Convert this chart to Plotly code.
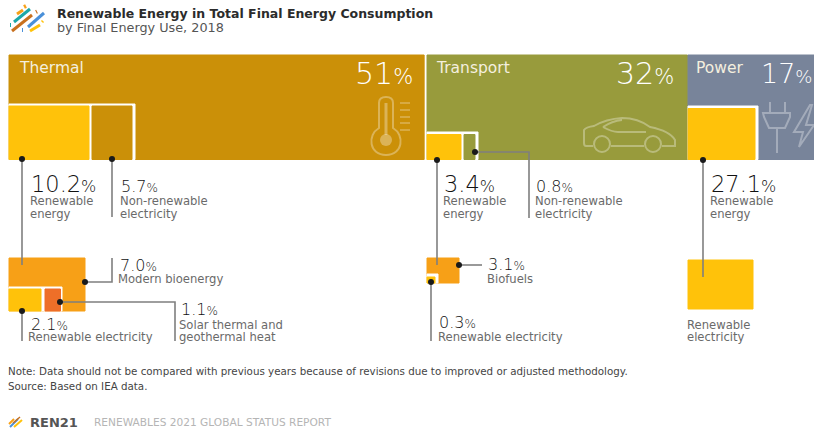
import plotly.graph_objects as go

# ---------- chart values ----------
uses = ["Thermal", "Transport", "Power"]
use_shares = [51, 32, 17]
thermal_parts = [10.2, 5.7]
thermal_renewable_parts = [7.0, 2.1, 1.1]
transport_parts = [3.4, 0.8]
transport_renewable_parts = [3.1, 0.3]
power_parts = [27.1]

# ---------- styles ----------
GOLD, OLIVE, SLATE = "#CB9008", "#989B3C", "#78849A"
YELLOW, ORANGE, RED = "#FFC20A", "#F7A017", "#EE6F28"
LINE, DOT = "#7f7f7f", "#1a1a1a"
DARK, MID = "#111111", "#6a6a6a"
FONT = "DejaVu Sans, sans-serif"
ICON = "rgba(255,255,255,0.32)"
NOFILL = "rgba(0,0,0,0)"
PX_PER_PCT = 8.14
TOP, BOTTOM = 55, 159.5
LABEL, VALUE, VALUE_BIG = 11.6, 16, 22.5

fig = go.Figure()


def rect(x0, y0, x1, y1, color, line=None):
    fig.add_trace(go.Scatter(
        x=[x0, x1, x1, x0, x0], y=[y0, y0, y1, y1, y0], mode="lines", fill="toself",
        fillcolor=color, line=dict(color=line or color, width=1 if line is None else 2),
        hoverinfo="skip", showlegend=False))


def leader(xs, ys, dot=True):
    fig.add_trace(go.Scatter(x=xs, y=ys, mode="lines", line=dict(color=LINE, width=1.6),
                             hoverinfo="skip", showlegend=False))
    if dot:
        fig.add_trace(go.Scatter(x=[xs[0]], y=[ys[0]], mode="markers",
                                 marker=dict(color=DOT, size=6), hoverinfo="skip", showlegend=False))


def text(x, y, s, size, color=MID, anchor="left", weight=400):
    fig.add_annotation(x=x, y=y, text=s, showarrow=False, xanchor=anchor, yanchor="middle",
                       xref="x", yref="y",
                       font=dict(family=FONT, size=size, color=color, weight=weight),
                       borderpad=0, borderwidth=0)


def pct(x, y, v, size, color=DARK, small=None, dec=True):
    label = f"{v:.1f}" if dec else f"{v}"
    small = small or size * 0.72
    fig.add_annotation(x=x, y=y, showarrow=False, xanchor="left", yanchor="middle",
                       text=f"{label}<span style='font-size:{small:.0f}px'>%</span>",
                       font=dict(family=FONT, size=size, color=color, weight=200))


# ---------- top panels ----------
x_left = [9, 427, 688]
colors = [GOLD, OLIVE, SLATE]
for xl, share, c in zip(x_left, use_shares, colors):
    rect(xl, TOP, min(xl + share * PX_PER_PCT, 814), BOTTOM, c)

# thermal parts
rect(9, 104, 135, BOTTOM, "#FFFFFF")
rect(9, 106, 89, BOTTOM, YELLOW)
rect(92, 106, 132, BOTTOM, GOLD)
# transport parts
rect(427, 132, 478, BOTTOM, "#FFFFFF")
rect(427, 134.5, 461, BOTTOM, YELLOW)
rect(464, 134.5, 475, BOTTOM, OLIVE)
# power part
rect(688, 106, 758, BOTTOM, "#FFFFFF")
rect(688, 108.5, 755, BOTTOM, YELLOW)

# ---------- lower squares ----------
rect(9, 258, 85, 311, ORANGE)
rect(9, 287, 62, 311, "#FFFFFF")
rect(9, 289, 41, 311, YELLOW)
rect(45, 289, 60.5, 311, RED)
rect(427, 258, 459, 283, ORANGE)
rect(427, 274, 438, 283, "#FFFFFF")
rect(427, 277, 435, 283, YELLOW)
rect(688, 260, 753, 309, YELLOW)

# ---------- leaders ----------
leader([22, 22], [159, 265])
leader([112, 112], [159, 217])
leader([85, 112, 112], [282, 282, 258])
leader([60, 175, 175], [302, 302, 341])
leader([22, 22], [311, 341])
leader([437, 437], [160, 265])
leader([475, 529, 529], [152, 152, 218])
leader([459, 482], [265, 265])
leader([431, 431], [282, 341])
leader([703, 703], [160, 277])

# ---------- panel text ----------
for x, s in zip([19, 436, 696], uses):
    text(x, 68, s, 15.5, "#F4EFDF")
pct(353, 73, use_shares[0], 30, "#FFFFFF", small=21, dec=False)
pct(614, 73, use_shares[1], 30, "#FFFFFF", small=21, dec=False)
pct(759, 73, use_shares[2], 27, "#FFFFFF", small=18, dec=False)

# ---------- value labels ----------
pct(29, 184, thermal_parts[0], VALUE_BIG)
text(30, 201, "Renewable", LABEL)
text(30, 214, "energy", LABEL)
pct(119, 186, thermal_parts[1], VALUE)
text(120, 201, "Non-renewable", LABEL)
text(120, 214, "electricity", LABEL)
pct(118, 265, thermal_renewable_parts[0], VALUE)
text(118, 279, "Modern bioenergy", LABEL)
pct(29, 324, thermal_renewable_parts[1], VALUE)
text(28, 337, "Renewable electricity", LABEL)
pct(179, 309, thermal_renewable_parts[2], VALUE)
text(179, 325, "Solar thermal and", LABEL)
text(179, 337, "geothermal heat", LABEL)

pct(442, 184, transport_parts[0], VALUE_BIG)
text(443, 201, "Renewable", LABEL)
text(443, 214, "energy", LABEL)
pct(534, 186, transport_parts[1], VALUE)
text(535, 201, "Non-renewable", LABEL)
text(535, 214, "electricity", LABEL)
pct(486, 264, transport_renewable_parts[0], VALUE)
text(487, 279, "Biofuels", LABEL)
pct(437, 322, transport_renewable_parts[1], VALUE)
text(438, 337, "Renewable electricity", LABEL)

pct(709, 184, power_parts[0], VALUE_BIG)
text(710, 201, "Renewable", LABEL)
text(710, 214, "energy", LABEL)
text(687, 325, "Renewable", LABEL)
text(687, 337, "electricity", LABEL)

# ---------- header / footer ----------
text(57, 13, "Renewable Energy in Total Final Energy Consumption", 12.5, "#2b2b2b", weight=700)
text(57, 27, "by Final Energy Use, 2018", 12.8, "#555555")
text(8, 371, "Note: Data should not be compared with previous years because of revisions due to improved or adjusted methodology.", 10.3, "#444444")
text(8, 386, "Source: Based on IEA data.", 10.3, "#444444")
text(30, 422, "REN21", 13, "#555555", weight=700)
text(94, 422, "RENEWABLES 2021 GLOBAL STATUS REPORT", 10.6, "#b5b5b5")

# ---------- logos (decorative) ----------
for (a, b, c_, w) in [
    ((14, 22), (30, 9), "#1BA8A8", 3), ((12, 31), (32, 15), "#C8701E", 3),
    ((28, 27), (44, 13), "#4A90D9", 3), ((30, 31), (40, 25), "#FFC20A", 3),
    ((17, 14), (23, 10), "#F7A017", 3), ((24, 7), (26, 6), "#F7A017", 4),
    ((36, 12), (37, 11.5), "#C8701E", 4), ((42, 22), (43, 21), "#FFC20A", 3),
    ((10, 25), (11, 25), "#1BA8A8", 4), ((22, 30), (23, 30), "#4A90D9", 4),
    ((10, 427), (18, 419), "#4A90D9", 2), ((9, 424), (14, 419), "#F7A017", 2),
    ((14, 427), (22, 420), "#FFC20A", 2), ((13, 423), (20, 417), "#C8701E", 1.5),
]:
    fig.add_trace(go.Scatter(x=[a[0], b[0]], y=[a[1], b[1]], mode="lines",
                             line=dict(color=c_, width=w), hoverinfo="skip", showlegend=False))

# ---------- icons (decorative) ----------
icon_line = dict(color=ICON, width=2)
shapes = [
    # thermometer
    dict(type="path", fillcolor=NOFILL,
         path="M379,128 L379,103 Q379,97 386,97 Q393,97 393,103 L393,128 "
              "C405,135 403,155 386,155 C369,155 367,135 379,128 Z", line=icon_line),
    dict(type="path", fillcolor=NOFILL, path="M386,103 L386,135", line=dict(color=ICON, width=3)),
    dict(type="circle", x0=380, y0=134, x1=392, y1=146, fillcolor=ICON, line=dict(width=0)),
    dict(type="path", fillcolor=NOFILL,
         path="M400,103 L410,103 M400,110 L410,110 M400,117 L410,117 M400,123 L410,123 M400,130 L410,130",
         line=dict(color=ICON, width=1.5)),
    # car
    dict(type="path", fillcolor=NOFILL,
         path="M584,143 L584,130 Q586,127 594,126 Q606,119 622,118 Q638,118 650,127 "
              "Q670,131 675,140 L675,146 L662,146 M644,146 L611,146 M593,146 L586,146 Q584,146 584,143",
         line=icon_line),
    dict(type="path", fillcolor=NOFILL, path="M603,127 Q612,132 618,132 L646,132 M603,127 Q612,121 622,120", line=icon_line),
    dict(type="circle", x0=594, y0=136, x1=610, y1=152, line=icon_line),
    dict(type="circle", x0=645, y0=136, x1=661, y1=152, line=icon_line),
    # plug
    dict(type="path", fillcolor=NOFILL,
         path="M770,102 L770,113 M785,102 L785,113 M763,113 L790,113 L790,117 L785,128 L769,128 L764,117 Z M777,128 L777,153",
         line=icon_line),
    # bolt
    dict(type="path", fillcolor=NOFILL, path="M810,105 L794,132 L803,132 L799,147 L814,125 L806,125 L812,105 Z", line=icon_line),
]

fig.update_layout(
    width=814, height=430, margin=dict(l=0, r=0, t=0, b=0),
    paper_bgcolor="white", plot_bgcolor="white", showlegend=False, shapes=shapes,
    xaxis=dict(range=[0, 814], visible=False, fixedrange=True),
    yaxis=dict(range=[430, 0], visible=False, fixedrange=True),
)
fig.write_html("out.html", config={"displayModeBar": False},
               post_script="document.body.style.margin='0';document.body.style.overflow='hidden';")
